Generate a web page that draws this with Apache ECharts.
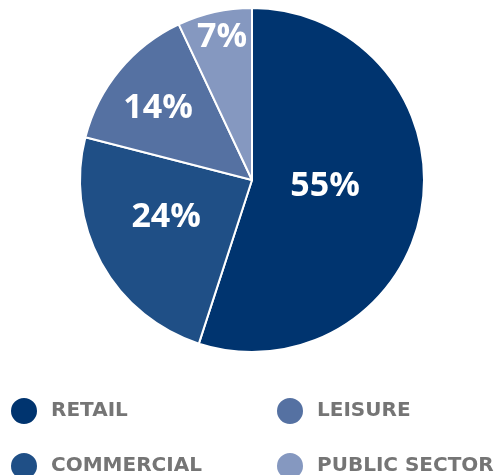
<!DOCTYPE html>
<html><head><meta charset="utf-8">
<script src="https://cdn.jsdelivr.net/npm/echarts@6/dist/echarts.min.js"></script>
<style>html,body{margin:0;padding:0;background:#fff}#c{width:498px;height:475px}</style>
</head><body><div id="c"></div>
<script>
const categories = ['RETAIL', 'COMMERCIAL', 'LEISURE', 'PUBLIC SECTOR'];
const shares = [55, 24, 14, 7];
const colors = ['#00346f', '#1f4f86', '#5571a2', '#8598c0'];
// label placement style: radial fraction of the radius and a small pixel nudge
const labelRadiusFrac = [0.43, 0.543, 0.686, 0.852];
const labelNudge = [[0, -5], [-4, -8], [-3, 4], [2, 0]];
const CX = 252, CY = 180, R = 172;

const chart = echarts.init(document.getElementById('c'), null, {renderer: 'canvas'});
function makeLegend(left, names) {
  return {
    show: true, type: 'plain', orient: 'vertical', left: left, top: 396, height: 120, padding: 0,
    icon: 'circle', itemWidth: 28, itemHeight: 28, itemGap: 25,
    selectedMode: false, data: names,
    textStyle: {color: '#757575', fontFamily: 'DejaVu Sans', fontWeight: 'bold', fontSize: 20, padding: [0, 0, 3, 8]}
  };
}
chart.setOption({
  animation: false,
  legend: [
    makeLegend(9, [categories[0], categories[1]]),
    makeLegend(275, [categories[2], categories[3]])
  ],
  series: [{
    type: 'pie',
    center: [CX, CY],
    radius: R,
    startAngle: 90,
    clockwise: true,
    data: categories.map((n, i) => ({name: n, value: shares[i], itemStyle: {color: colors[i]}})),
    itemStyle: {borderColor: '#ffffff', borderWidth: 2},
    label: {
      position: 'inside', formatter: '{c}%', color: '#ffffff',
      fontFamily: 'Open Sans', fontWeight: 'bold', fontSize: 34
    },
    labelLine: {show: false},
    labelLayout: function (p) {
      const r = p.labelRect;
      const lx = r.x + r.width / 2 - CX, ly = r.y + r.height / 2 - CY;
      const d = Math.sqrt(lx * lx + ly * ly) || 1;
      const t = labelRadiusFrac[p.dataIndex] * R / d;
      const n = labelNudge[p.dataIndex];
      return {x: CX + lx * t + n[0], y: CY + ly * t + n[1], align: 'center', verticalAlign: 'middle'};
    }
  }]
});
</script></body></html>
